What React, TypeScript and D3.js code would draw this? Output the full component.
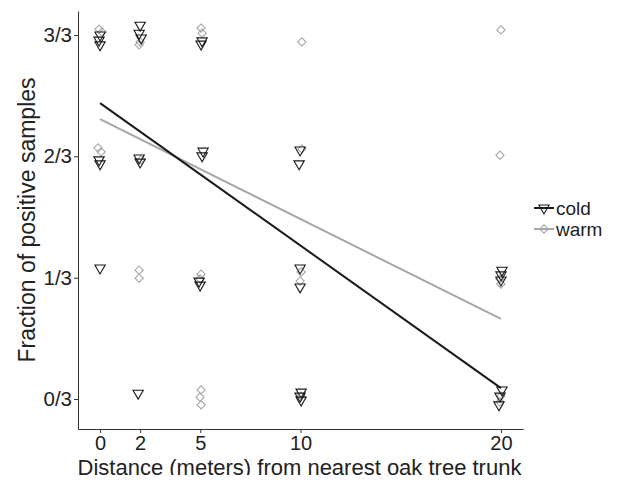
import React, { useEffect, useRef } from "react";
import * as d3 from "d3";

// distances (m) with the jitter seen in the plot, and fraction of positive samples
const coldX = [0, -0.05, 0, -0.05, 0, 0, 2, 1.95, 2.05, 1.95, 2, 1.9, 5.09, 5.04, 5.14, 5.09, 4.94, 4.99, 9.98, 9.93, 9.98, 9.98, 10.03, 9.98, 10.03, 20.05, 20, 20, 20.05, 19.95, 19.9];
const coldY = [1.0, 0.986, 0.973, 0.657, 0.646, 0.36, 1.027, 1.005, 0.992, 0.662, 0.651, 0.016, 0.984, 0.975, 0.681, 0.668, 0.324, 0.313, 0.684, 0.646, 0.36, 0.308, 0.019, 0.008, -0.003, 0.354, 0.341, 0.327, 0.025, 0.008, -0.016];
const warmX = [-0.05, 0.1, -0.1, 0.05, 2, 1.95, 2.05, 1.95, 1.95, 5.04, 5.09, 5.04, 4.99, 5.04, 4.99, 5.04, 10.07, 10.07, 10.03, 9.98, 10.03, 20, 19.95, 19.95, 20, 20, 19.95];
const warmY = [1.016, 1.008, 0.69, 0.679, 0.981, 0.973, 0.657, 0.354, 0.332, 1.019, 1.005, 0.343, 0.33, 0.025, 0.005, -0.016, 0.981, 0.687, 0.349, 0.324, 0.008, 1.014, 0.67, 0.33, 0.316, 0.008, -0.008];

// fitted lines: value at distance 0 and at distance 20
const coldFit = [0.813, 0.03];
const warmFit = [0.769, 0.22];

const xTicks = [0, 2, 5, 10, 20];
const yTicks = [0, 1 / 3, 2 / 3, 1];
const yTickLabels = ["0/3", "1/3", "2/3", "3/3"];
const groups = ["cold", "warm"];

const W = 617;
const H = 483;
const COLD = "#1a1a1a";
const WARM = "#a6a6a6";

export default function App() {
  const ref = useRef<SVGSVGElement>(null);

  useEffect(() => {
    const svg = d3.select(ref.current);
    svg.selectAll("*").remove();

    const left = 78, right = 523, top = 11, bottom = 429;
    const x = d3.scaleLinear().domain([-1.1, 21.1]).range([left, right]);
    const y = d3.scaleLinear().domain([-0.0824, 1.066]).range([bottom, top]);

    const font = "'Liberation Sans', Arial, sans-serif";

    // axes
    const xAxis = svg.append("g")
      .attr("transform", `translate(0,${bottom})`)
      .call(d3.axisBottom(x).tickValues(xTicks).tickSize(4).tickPadding(3).tickSizeOuter(0));
    xAxis.select(".domain").attr("stroke", "#333");
    xAxis.selectAll(".tick line").attr("stroke", "#333");
    xAxis.selectAll("text").attr("font-family", font).attr("font-size", 20).attr("fill", "#222");

    const yAxis = svg.append("g")
      .attr("transform", `translate(${left},0)`)
      .call(d3.axisLeft(y).tickValues(yTicks).tickFormat((_, i) => yTickLabels[i]).tickSize(4).tickPadding(2).tickSizeOuter(0));
    yAxis.select(".domain").attr("stroke", "#333");
    yAxis.selectAll(".tick line").attr("stroke", "#333");
    yAxis.selectAll("text").attr("font-family", font).attr("font-size", 20.5).attr("fill", "#222");

    svg.append("text")
      .attr("x", (left + right) / 2 - 1)
      .attr("y", 475)
      .attr("text-anchor", "middle")
      .attr("font-family", font)
      .attr("font-size", 22)
      .attr("fill", "#222")
      .text("Distance (meters) from nearest oak tree trunk");

    svg.append("text")
      .attr("transform", `translate(35,${(top + bottom) / 2}) rotate(-90)`)
      .attr("text-anchor", "middle")
      .attr("font-family", font)
      .attr("font-size", 23)
      .attr("fill", "#222")
      .text("Fraction of positive samples");

    const tri = d3.symbol().type(d3.symbolTriangle).size(46)();
    const dia = d3.symbol().type(d3.symbolSquare).size(34)();

    // points
    const drawPoints = (xs: number[], ys: number[], path: string | null, color: string, rot: number) => {
      svg.append("g").selectAll("path")
        .data(xs.map((v, i) => [v, ys[i]]))
        .join("path")
        .attr("d", path)
        .attr("transform", d => `translate(${x(d[0])},${y(d[1])}) rotate(${rot})`)
        .attr("fill", "none")
        .attr("stroke", color)
        .attr("stroke-width", 1.1);
    };
    drawPoints(warmX, warmY, dia, WARM, 45);
    drawPoints(coldX, coldY, tri, COLD, 180);

    // fitted lines
    const line = d3.line<[number, number]>().x(d => x(d[0])).y(d => y(d[1]));
    svg.append("path")
      .attr("d", line([[0, warmFit[0]], [20, warmFit[1]]]))
      .attr("stroke", WARM).attr("stroke-width", 2).attr("fill", "none");
    svg.append("path")
      .attr("d", line([[0, coldFit[0]], [20, coldFit[1]]]))
      .attr("stroke", COLD).attr("stroke-width", 2).attr("fill", "none");

    // legend
    const legend = svg.append("g").attr("transform", "translate(534,208)");
    groups.forEach((g, i) => {
      const color = g === "cold" ? COLD : WARM;
      const row = legend.append("g").attr("transform", `translate(0,${i * 21})`);
      row.append("line").attr("x1", 0).attr("x2", 20).attr("stroke", color).attr("stroke-width", 2);
      row.append("path")
        .attr("d", g === "cold" ? tri : dia)
        .attr("transform", `translate(10,0) rotate(${g === "cold" ? 180 : 45})`)
        .attr("fill", "none").attr("stroke", color).attr("stroke-width", 1.1);
      row.append("text")
        .attr("x", 22).attr("y", 0).attr("dy", "0.35em")
        .attr("font-family", font).attr("font-size", 19).attr("fill", "#222")
        .text(g);
    });
  }, []);

  return <svg ref={ref} width={W} height={H} style={{ display: "block", margin: "-8px" }} />;
}
